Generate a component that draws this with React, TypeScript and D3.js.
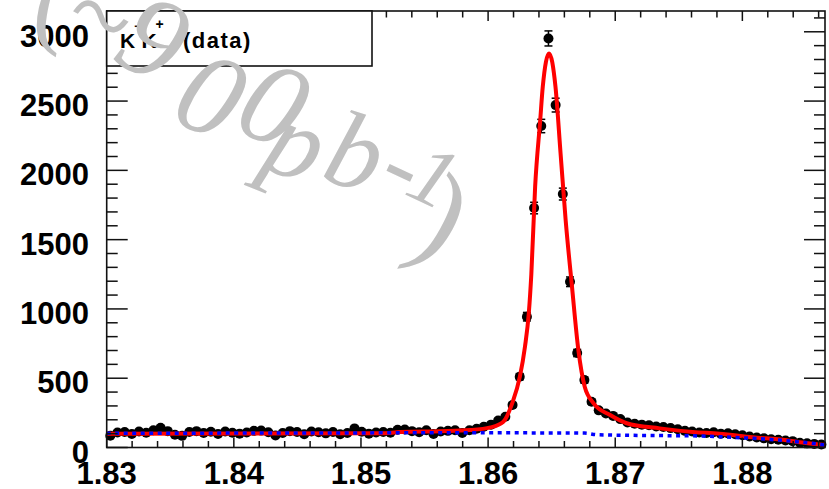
import React from 'react';
import * as d3 from 'd3';

// ---- data ----
const X_MIN = 1.83;
const X_MAX = 1.8865;
const N_BINS = 100;
const Y_MAX = 3150;

const counts = [
  85, 108, 112, 98, 115, 106, 125, 142, 118, 92,
  84, 112, 118, 104, 114, 98, 116, 106, 100, 108,
  120, 122, 110, 86, 104, 118, 112, 96, 116, 110,
  102, 112, 96, 104, 138, 114, 100, 108, 112, 106,
  128, 130, 118, 110, 124, 98, 116, 120, 124, 104,
  125, 135, 150, 165, 195, 222, 307, 511, 944, 1728,
  2320, 2952, 2471, 1829, 1196, 682, 487, 330, 268, 245,
  228, 205, 180, 172, 165, 160, 152, 148, 140, 132,
  120, 115, 108, 104, 110, 100, 102, 96, 88, 80,
  72, 66, 60, 56, 50, 46, 34, 30, 26, 22,
];

const fitX = [
  1.83, 1.8515, 1.8531, 1.8562, 1.8586, 1.8602, 1.8612, 1.8619, 1.8625, 1.8629,
  1.8632, 1.8634, 1.8637, 1.8641, 1.8643, 1.8648, 1.8653, 1.8657, 1.8661, 1.8666,
  1.8671, 1.8676, 1.8683, 1.8696, 1.8709, 1.8735, 1.8761, 1.8782, 1.8808, 1.8835,
  1.8845, 1.8863, 1.8865,
];
const fitY = [
  100, 102, 112, 118, 126, 145, 186, 320, 511, 727,
  968, 1250, 1882, 2363, 2603, 2844, 2603, 2123, 1641, 1160,
  703, 439, 319, 234, 175, 138, 112, 100, 74, 52,
  38, 20, 18,
];

const bgX = [1.83, 1.8594, 1.8676, 1.8686, 1.8735, 1.8761, 1.8782, 1.88, 1.8822, 1.8845, 1.8865];
const bgY = [102, 106, 104, 92, 86, 84, 78, 70, 58, 40, 18];

const xTicks = [1.83, 1.84, 1.85, 1.86, 1.87, 1.88];
const yTicks = [0, 500, 1000, 1500, 2000, 2500, 3000];

const legendParts = ['K', '\u2212', 'K', '+', '(data)'];
const watermarkChars = ['(', '~', '9', '0', '0', 'p', 'b', '-', '1', ')'];

// ---- layout ----
const W = 829;
const H = 489;
const L = 106.7;
const R = 825;
const T = 11;
const B = 447.5;
const FONT = "'Liberation Sans', Arial, Helvetica, sans-serif";

export default function App() {
  const x = d3.scaleLinear().domain([X_MIN, X_MAX]).range([L, R]);
  const y = d3.scaleLinear().domain([0, Y_MAX]).range([B, T]);
  const binW = (X_MAX - X_MIN) / N_BINS;
  const centers = counts.map((_, i) => X_MIN + (i + 0.5) * binW);

  const line = d3
    .line<[number, number]>()
    .x((d) => x(d[0]))
    .y((d) => y(d[1]))
    .curve(d3.curveMonotoneX);
  const fitPath = line(fitX.map((v, i) => [v, fitY[i]]) as [number, number][]) || '';
  const bgPath = line(bgX.map((v, i) => [v, bgY[i]]) as [number, number][]) || '';

  const xMinor = d3.range(0, 29).map((k) => X_MIN + k * 0.002).filter((v) => v <= X_MAX + 1e-9);
  const yMinor = d3.range(0, 32).map((k) => k * 100).filter((v) => v <= Y_MAX);
  const isMajorX = (v: number) => Math.abs(v * 100 - Math.round(v * 100)) < 1e-6;

  // watermark glyph placement (decoration)
  const wm = [
    { cx: 50, cy: 2, r: 0, s: 100 },
    { cx: 100, cy: 15, r: 30, s: 110 },
    { cx: 154, cy: 38, r: 28, s: 118 },
    { cx: 211, cy: 95, r: 24, s: 118 },
    { cx: 274, cy: 104, r: 24, s: 118 },
    { cx: 297, cy: 142, r: 22, s: 108 },
    { cx: 356, cy: 152, r: 18, s: 108 },
    { cx: 404, cy: 164, r: 25, s: 100 },
    { cx: 434, cy: 176, r: 25, s: 85 },
    { cx: 442, cy: 214, r: 18, s: 120 },
  ];

  return (
    <svg
      width={W}
      height={H}
      style={{ position: 'absolute', left: 0, top: 0, background: '#fff' }}
      xmlns="http://www.w3.org/2000/svg"
    >
      <rect x={0} y={0} width={W} height={H} fill="#fff" />

      {/* data points */}
      <g>
        {counts.map((c, i) => {
          const cx = x(centers[i]);
          const cy = y(c);
          const e = Math.sqrt(c);
          const y1 = y(c + e);
          const y2 = y(c - e);
          return (
            <g key={i}>
              <line x1={cx} x2={cx} y1={y1} y2={y2} stroke="#000" strokeWidth={1.5} />
              <line x1={cx - 4} x2={cx + 4} y1={y1} y2={y1} stroke="#000" strokeWidth={1.5} />
              <line x1={cx - 4} x2={cx + 4} y1={y2} y2={y2} stroke="#000" strokeWidth={1.5} />
              <line x1={x(centers[i] - binW / 2)} x2={x(centers[i] + binW / 2)} y1={cy} y2={cy} stroke="#000" strokeWidth={1.5} />
              <circle cx={cx} cy={cy} r={5} fill="#000" />
            </g>
          );
        })}
      </g>

      {/* fit and background */}
      <path d={fitPath} fill="none" stroke="#ff0000" strokeWidth={4} strokeLinejoin="round" />
      <path d={bgPath} fill="none" stroke="#0000ff" strokeWidth={3.5} strokeDasharray="4 4.5" />

      {/* frame */}
      <rect x={L} y={T} width={R - L} height={B - T} fill="none" stroke="#111" strokeWidth={1.6} />

      {/* x ticks */}
      {xMinor.map((v, i) => {
        const px = x(v);
        const len = isMajorX(v) ? 10 : 6.5;
        return (
          <g key={'xt' + i}>
            <line x1={px} x2={px} y1={B} y2={B - len} stroke="#111" strokeWidth={1.5} />
            <line x1={px} x2={px} y1={T} y2={T + len} stroke="#111" strokeWidth={1.5} />
          </g>
        );
      })}
      {/* y ticks */}
      {yMinor.map((v, i) => {
        const py = y(v);
        const len = v % 500 === 0 ? 21 : 11;
        return (
          <g key={'yt' + i}>
            <line x1={L} x2={L + len} y1={py} y2={py} stroke="#111" strokeWidth={1.5} />
            <line x1={R} x2={R - len} y1={py} y2={py} stroke="#111" strokeWidth={1.5} />
          </g>
        );
      })}

      {/* tick labels */}
      {xTicks.map((v) => (
        <text
          key={'xl' + v}
          x={x(v)}
          y={484}
          textAnchor="middle"
          fontFamily={FONT}
          fontWeight="bold"
          fontSize={31}
          fill="#000"
        >
          {v.toFixed(2)}
        </text>
      ))}
      {yTicks.map((v) => (
        <text
          key={'yl' + v}
          x={89}
          y={y(v) + 15}
          textAnchor="end"
          fontFamily={FONT}
          fontWeight="bold"
          fontSize={31}
          fill="#000"
        >
          {v}
        </text>
      ))}

      {/* legend */}
      <rect x={L} y={T} width={372 - L} height={66 - T} fill="#fff" stroke="#111" strokeWidth={1.6} />
      <g fontFamily={FONT} fontWeight="bold" fill="#000">
        <text x={120} y={47.5} fontSize={21}>{legendParts[0]}</text>
        <text x={134} y={31} fontSize={14}>{legendParts[1]}</text>
        <text x={141.5} y={47.5} fontSize={21}>{legendParts[2]}</text>
        <text x={155.5} y={29} fontSize={14}>{legendParts[3]}</text>
        <text x={183} y={47.5} fontSize={22} letterSpacing={1.5}>{legendParts[4]}</text>
      </g>

      {/* watermark */}
      <g fill="#c0c0c0" fontFamily="'Liberation Serif', 'Times New Roman', serif" fontStyle="italic">
        {watermarkChars.map((ch, i) => (
          <text
            key={'wm' + i}
            transform={`translate(${wm[i].cx},${wm[i].cy}) rotate(${wm[i].r})`}
            textAnchor="middle"
            dominantBaseline="central"
            fontSize={wm[i].s}
          >
            {ch}
          </text>
        ))}
      </g>
    </svg>
  );
}
